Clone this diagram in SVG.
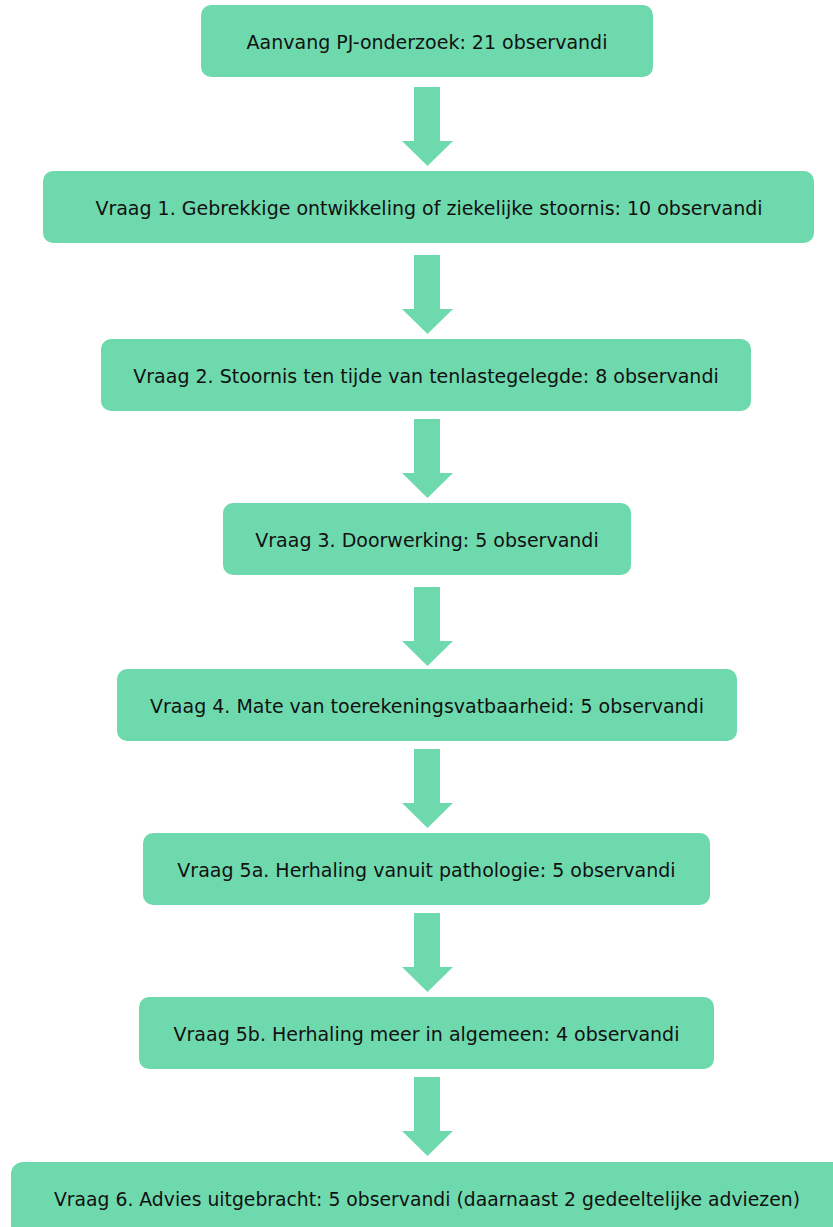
<svg xmlns="http://www.w3.org/2000/svg" width="833" height="1227" viewBox="0 0 833 1227">
<style>
.box{fill:#6FD9AE;}
.arr{fill:#6FD9AE;}
.t{font-family:"DejaVu Sans","Verdana",sans-serif;font-size:19px;fill:#111;text-anchor:middle;}
</style>
<defs>
<path id="arrow" d="M414,0 L440,0 L440,54 L453,54 L427.5,79 L402,54 L414,54 Z"/>
</defs>
<rect width="833" height="1227" fill="#fff"/>
<g id="connectors">
<use href="#arrow" class="arr" y="87"/>
<use href="#arrow" class="arr" y="255"/>
<use href="#arrow" class="arr" y="419"/>
<use href="#arrow" class="arr" y="587"/>
<use href="#arrow" class="arr" y="749"/>
<use href="#arrow" class="arr" y="913"/>
<use href="#arrow" class="arr" y="1077"/>
</g>
<g id="n0"><rect class="box" x="201" y="5" width="452" height="72" rx="10"/><text class="t" x="427" y="49">Aanvang PJ-onderzoek: 21 observandi</text></g>
<g id="n1"><rect class="box" x="43" y="171" width="771" height="72" rx="10"/><text class="t" x="429" y="215">Vraag 1. Gebrekkige ontwikkeling of ziekelijke stoornis: 10 observandi</text></g>
<g id="n2"><rect class="box" x="101" y="339" width="650" height="72" rx="10"/><text class="t" x="426" y="383">Vraag 2. Stoornis ten tijde van tenlastegelegde: 8 observandi</text></g>
<g id="n3"><rect class="box" x="223" y="503" width="408" height="72" rx="10"/><text class="t" x="427" y="547">Vraag 3. Doorwerking: 5 observandi</text></g>
<g id="n4"><rect class="box" x="117" y="669" width="620" height="72" rx="10"/><text class="t" x="427" y="713">Vraag 4. Mate van toerekeningsvatbaarheid: 5 observandi</text></g>
<g id="n5"><rect class="box" x="143" y="833" width="567" height="72" rx="10"/><text class="t" x="426.5" y="877">Vraag 5a. Herhaling vanuit pathologie: 5 observandi</text></g>
<g id="n6"><rect class="box" x="139" y="997" width="575" height="72" rx="10"/><text class="t" x="426.5" y="1041">Vraag 5b. Herhaling meer in algemeen: 4 observandi</text></g>
<g id="n7"><rect class="box" x="11" y="1162" width="840" height="80" rx="12"/><text class="t" x="427" y="1206" textLength="746" lengthAdjust="spacingAndGlyphs">Vraag 6. Advies uitgebracht: 5 observandi (daarnaast 2 gedeeltelijke adviezen)</text></g>
</svg>
